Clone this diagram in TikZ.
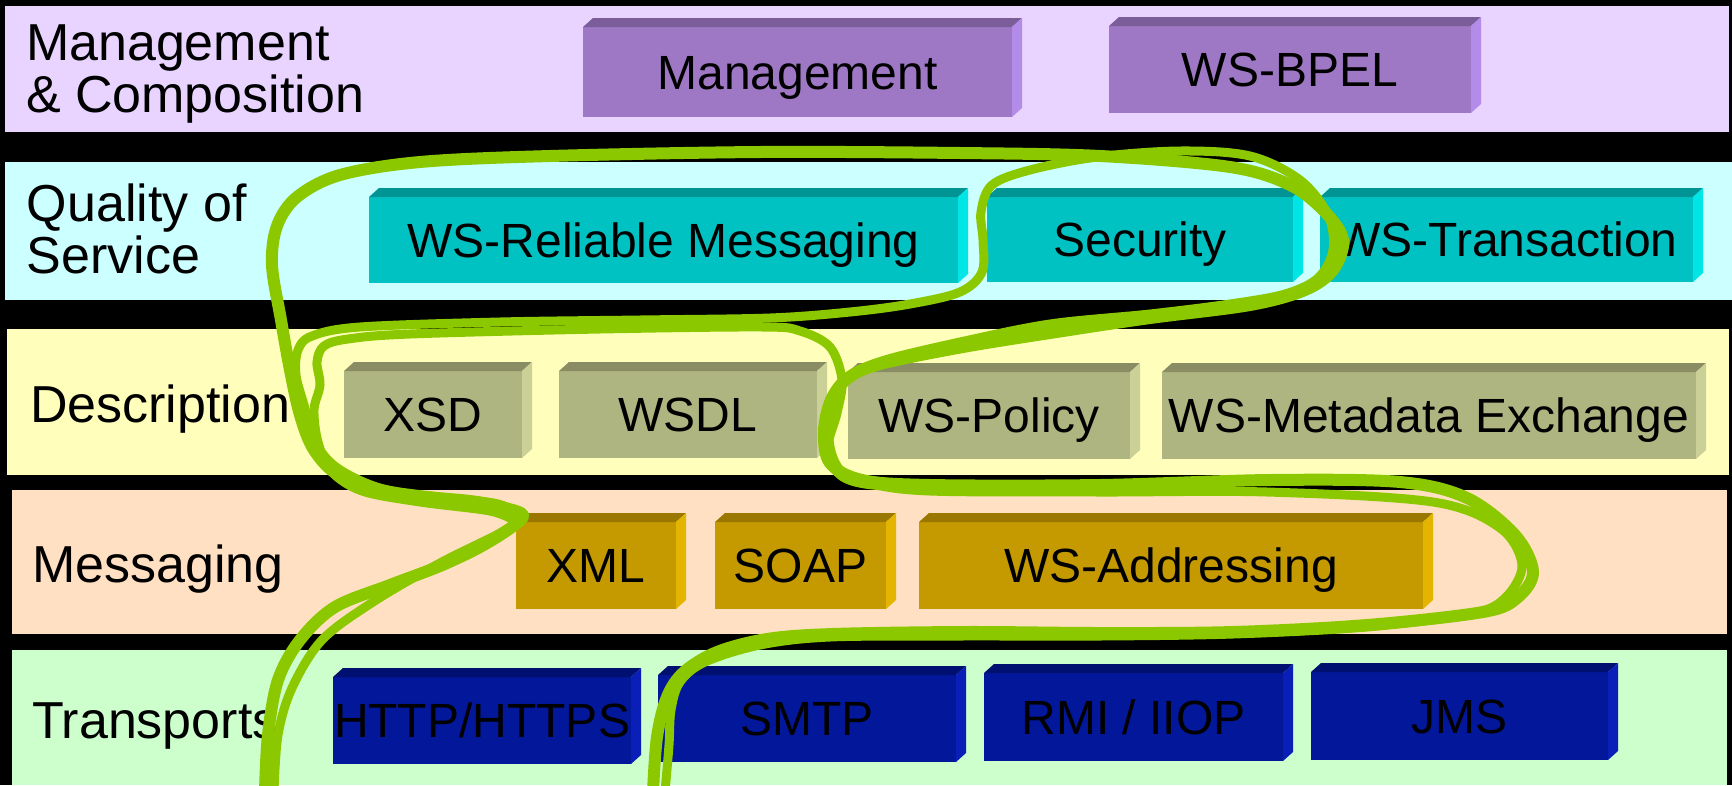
\documentclass[tikz,border=0pt]{standalone}
\usepackage{fontspec}
\setmainfont{Liberation Sans}
\definecolor{bandA}{HTML}{E8D4FF}
\definecolor{bandB}{HTML}{CCFFFF}
\definecolor{bandC}{HTML}{FFFFBB}
\definecolor{bandD}{HTML}{FFE0C2}
\definecolor{bandE}{HTML}{CCFFCC}
\definecolor{pufront}{HTML}{9E78C4}
\definecolor{putop}{HTML}{7B5E99}
\definecolor{puside}{HTML}{B38BE8}
\definecolor{cyfront}{HTML}{00C2C2}
\definecolor{cytop}{HTML}{009494}
\definecolor{cyside}{HTML}{00E5E5}
\definecolor{olfront}{HTML}{AEB580}
\definecolor{oltop}{HTML}{8A8C63}
\definecolor{olside}{HTML}{CBD196}
\definecolor{gofront}{HTML}{C49A00}
\definecolor{gotop}{HTML}{9A7800}
\definecolor{goside}{HTML}{E3B500}
\definecolor{nvfront}{HTML}{03179A}
\definecolor{nvtop}{HTML}{001070}
\definecolor{nvside}{HTML}{0A1EB8}
\definecolor{loopgreen}{HTML}{8CC800}
\newcommand\wsbox[7]{%
  \pgfmathsetmacro\wsw{#4-#2}%
  \pgfmathsetmacro\wsh{#5-#3}%
  \node[boxnode, fill=#6front, minimum width=\wsw pt, minimum height=\wsh pt] (#1) at ({(#2+#4)/2},{(#3+#5)/2}) {#7};
  \fill[#6top] (#1.north west) -- ++(10,-9) -- ([shift={(10,-9)}]#1.north east) -- (#1.north east) -- cycle;
  \fill[#6side] (#1.north east) -- ++(10,-9) -- ([shift={(10,-9)}]#1.south east) -- (#1.south east) -- cycle;
}
\begin{document}
\begin{tikzpicture}[x=1pt,y=-1pt,
  boxnode/.style={inner sep=0pt, outer sep=0pt, text height=34.4pt, text depth=0pt,
    font=\fontsize{48}{50}\selectfont, text=black},
  lbl/.style={anchor=base west, inner sep=0pt, outer sep=0pt, align=left,
    font=\fontsize{52}{52}\selectfont},
  greenloop/.style={draw=loopgreen, line cap=round, line join=round}]
\fill[black] (0,0) rectangle (1732,785);
\useasboundingbox (0,0) rectangle (1732,785);
% bands
\fill[bandA] (5,6) rectangle (1729,132);
\fill[bandB] (5,162) rectangle (1732,300);
\fill[bandC] (7,329) rectangle (1729,475);
\fill[bandD] (12,490) rectangle (1727,634);
\fill[bandE] (12,650) rectangle (1727,785);
% band labels (base anchor = baseline of last line)
\node[lbl] (lmgmt) at (26,112) {Management\\\& Composition};
\node[lbl] (lqos) at (27,273) {Quality of\\Service};
\node[lbl] (ldesc) at (30,422) {Description};
\node[lbl] (lmsg) at (32,582) {Messaging};
\node[lbl] (ltrans) at (32,738) {Transports};
% boxes
\wsbox{mgmt}{583}{27}{1012}{117}{pu}{Management}
\wsbox{bpel}{1109}{26}{1471}{113}{pu}{WS-BPEL}
\wsbox{wsrm}{369}{197}{958}{283}{cy}{WS-Reliable Messaging}
\wsbox{sec}{987}{197}{1293}{282}{cy}{Security}
\wsbox{wstx}{1320}{197}{1693}{282}{cy}{WS-Transaction}
\wsbox{xsd}{344}{371}{522}{458}{ol}{XSD}
\wsbox{wsdl}{559}{371}{817}{458}{ol}{WSDL}
\wsbox{wspol}{848}{372}{1130}{459}{ol}{WS-Policy}
\wsbox{wsmex}{1162}{372}{1696}{459}{ol}{WS-Metadata Exchange}
\wsbox{xml}{516}{522}{676}{609}{go}{XML}
\wsbox{soap}{715}{522}{886}{609}{go}{SOAP}
\wsbox{wsa}{919}{522}{1423}{609}{go}{WS-Addressing}
\wsbox{http}{333}{677}{631}{764}{nv}{HTTP/HTTPS}
\wsbox{smtp}{658}{675}{956}{762}{nv}{SMTP}
\wsbox{rmi}{984}{673}{1283}{761}{nv}{RMI / IIOP}
\wsbox{jms}{1311}{672}{1608}{760}{nv}{JMS}
% green freehand loops
\draw[greenloop, line width=12pt] plot[smooth, tension=0.55] coordinates {
 (265,792) (268,735) (278,680) (300,640) (335,607) (390,585) (440,566) (480,547) (512,527) (523,515)
 (505,508) (470,501) (390,493) (340,476) (314,450) (300,415) (290,370) (281,320) (272,265)
 (277,226) (297,197) (340,175) (420,162) (550,156) (760,152) (960,153) (1100,156) (1230,167)
 (1290,185) (1325,212) (1343,240) (1333,270) (1305,290) (1250,305) (1150,318) (1063,331)
 (963,347) (880,364) (848,378) (831,400) (824,432) (830,463) (862,480) (930,485) (1100,485)
 (1270,480) (1400,482) (1467,498) (1515,535) (1533,572) (1517,598) (1483,612) (1367,625)
 (1233,632) (1100,633) (967,632) (833,634) (767,639) (717,652) (684,672) (667,697) (657,737) (653,792)};
\draw[greenloop, line width=9pt] plot[smooth, tension=0.55] coordinates {
 (274,792) (278,735) (292,688) (322,640) (373,602) (440,563) (500,533) (520,518)
 (498,504) (440,497) (380,488) (336,467) (314,440) (304,405) (296,375) (298,350) (312,336)
 (360,327) (500,322) (640,320) (770,318) (850,312) (910,304) (960,292) (982,272) (983,240)
 (981,212) (992,185) (1030,170) (1097,157) (1180,151) (1250,156) (1300,180) (1328,215)
 (1333,250) (1318,278) (1285,294) (1230,304) (1150,314) (1050,324) (960,342) (885,360)
 (852,375) (834,400) (829,440) (840,470) (868,483) (930,491) (1100,492) (1267,492)
 (1433,502) (1500,528) (1522,565) (1505,598) (1470,614) (1367,627) (1233,634) (1100,636)
 (960,636) (830,637) (760,645) (705,662) (680,682) (671,710) (669,745) (665,792)};
\draw[greenloop, line width=9pt] plot[smooth, tension=0.55] coordinates {
 (515,521) (490,511) (420,502) (362,491) (331,471) (318,442) (314,410) (320,385) (317,362)
 (324,346) (348,339) (410,334) (600,329) (763,327) (800,331) (830,347) (842,380) (837,413)
 (828,447) (838,473) (865,484) (930,488) (1000,489)};
\end{tikzpicture}
\end{document}
